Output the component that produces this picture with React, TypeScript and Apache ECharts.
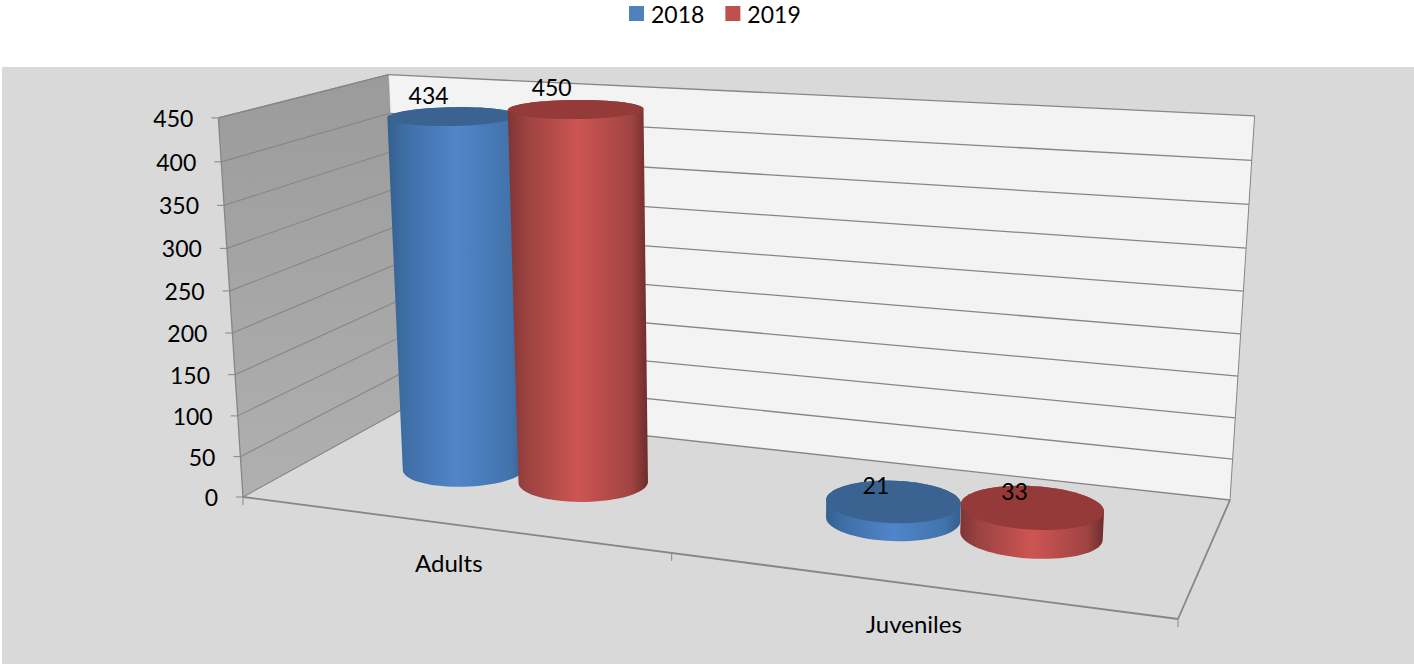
import React, { useEffect, useRef } from "react";
import * as echarts from "echarts";

const categories = ["Adults", "Juveniles"];
const years = ["2018", "2019"];
const values2018 = [434, 21];
const values2019 = [450, 33];
const yTicks = [0, 50, 100, 150, 200, 250, 300, 350, 400, 450];

const FAMILY = "Lato, 'Open Sans', sans-serif";
const FONT = "23px " + FAMILY;
const CAT_FONT = "24px " + FAMILY;
const GRID = { left: 243, top: 118, width: 935, height: 379 };

// Perspective box: floor corners and the vanishing point of the verticals.
const P00 = [243, 497];
const P10 = [1178, 619];
const P11 = [1230, 500];
const P01 = [403, 409];
const VP = [740, 8150];
const VS = -0.0472;

const dx1 = P10[0] - P11[0], dx2 = P01[0] - P11[0], sx = P00[0] - P10[0] + P11[0] - P01[0];
const dy1 = P10[1] - P11[1], dy2 = P01[1] - P11[1], sy = P00[1] - P10[1] + P11[1] - P01[1];
const det = dx1 * dy2 - dx2 * dy1;
const hg = (sx * dy2 - dx2 * sy) / det;
const hh = (dx1 * sy - sx * dy1) / det;
const ha = P10[0] - P00[0] + hg * P10[0], hb = P01[0] - P00[0] + hh * P01[0], hc = P00[0];
const hd = P10[1] - P00[1] + hg * P10[1], he = P01[1] - P00[1] + hh * P01[1], hf = P00[1];

function project(u: number, v: number, z: number): number[] {
  const w = hg * u + hh * v + 1 + z * VS;
  return [
    (ha * u + hb * v + hc + z * VS * VP[0]) / w,
    (hd * u + he * v + hf + z * VS * VP[1]) / w,
  ];
}

function hull(points: number[][]): number[][] {
  const p = points.slice().sort((a, b) => a[0] - b[0] || a[1] - b[1]);
  const cross = (o: number[], a: number[], b: number[]) =>
    (a[0] - o[0]) * (b[1] - o[1]) - (a[1] - o[1]) * (b[0] - o[0]);
  const lower: number[][] = [];
  for (const q of p) {
    while (lower.length > 1 && cross(lower[lower.length - 2], lower[lower.length - 1], q) <= 0) lower.pop();
    lower.push(q);
  }
  const upper: number[][] = [];
  for (const q of p.slice().reverse()) {
    while (upper.length > 1 && cross(upper[upper.length - 2], upper[upper.length - 1], q) <= 0) upper.pop();
    upper.push(q);
  }
  return lower.slice(0, -1).concat(upper.slice(0, -1));
}

const LINE = "#868686";
const line = (a: number[], b: number[], lineWidth = 1.3) => ({
  type: "line",
  shape: { x1: a[0], y1: a[1], x2: b[0], y2: b[1] },
  style: { stroke: LINE, lineWidth },
  silent: true,
});

const label = (text: string, x: number, y: number, align = "center", font = FONT) => ({
  type: "text",
  silent: true,
  style: { text, x, y, align, verticalAlign: "middle", font, fill: "#000" },
});

const toZ = (py: number, sys: any) => (sys.y + sys.height - py) / sys.height;
const toU = (px: number, sys: any) => (px - sys.x) / sys.width;

function renderWalls() {
  const c = (u: number, v: number, z: number) => project(u, v, z);
  const poly = (pts: number[][], fill: any) => ({
    type: "polygon",
    shape: { points: pts },
    style: { fill },
    silent: true,
  });
  return {
    type: "group",
    children: [
      poly([c(0, 0, 0), c(1, 0, 0), c(1, 1, 0), c(0, 1, 0)], "#d9d9d9"),
      poly(
        [c(0, 0, 0), c(0, 1, 0), c(0, 1, 1), c(0, 0, 1)],
        new echarts.graphic.LinearGradient(0, 0, 0, 1, [
          { offset: 0, color: "#9b9b9b" },
          { offset: 1, color: "#b0b0b0" },
        ])
      ),
      poly([c(0, 1, 0), c(1, 1, 0), c(1, 1, 1), c(0, 1, 1)], "#f3f3f3"),
      line(c(0, 0, 0), c(1, 0, 0), 1.8),
      line(c(1, 0, 0), c(1, 1, 0), 1.8),
      line(c(0, 0, 0), c(0, 0, 1)),
      line(c(0, 0, 1), c(0, 1, 1)),
      line(c(1, 1, 0), c(1, 1, 1), 1),
      line(c(0, 1, 1), c(0, 1, 0), 0.6),
      line([c(0, 0, 0)[0], c(0, 0, 0)[1]], [c(0, 0, 0)[0], c(0, 0, 0)[1] + 8], 1),
      line([c(0.5, 0, 0)[0], c(0.5, 0, 0)[1]], [c(0.5, 0, 0)[0], c(0.5, 0, 0)[1] + 8], 1),
      line([c(1, 0, 0)[0], c(1, 0, 0)[1]], [c(1, 0, 0)[0], c(1, 0, 0)[1] + 8], 1),
    ],
  };
}

function renderTick(params: any, api: any) {
  const sys = params.coordSys;
  const val = api.value(0);
  const z = toZ(api.coord([0, val])[1], sys);
  const a = project(0, 0, z);
  const b = project(0, 1, z);
  const d = project(1, 1, z);
  return {
    type: "group",
    children: [
      line(a, b, 1.1),
      line(b, d, 1.3),
      line([a[0] - 7, a[1]], a, 1),
      label(String(val), a[0] - 25, a[1], "right"),
    ],
  };
}

function renderCategory(params: any, api: any) {
  const sys = params.coordSys;
  const idx = api.value(0);
  const px = api.coord([idx, 0])[0];
  const p = project(toU(px, sys), 0, 0);
  return label(categories[idx], p[0], p[1] + 39, "center", CAT_FONT);
}

const CENTER_V = 0.49;
const OFFSET_BLUE = -0.071;
const OFFSET_RED = 0.075;
const R_BLUE = 0.07;
const R_RED = 0.072;
const R_V = 0.19;
const STEPS = 72;

function makeCylinder(offset: number, radius: number, stops: string[], topColor: string) {
  return function renderCyl(params: any, api: any) {
    const sys = params.coordSys;
    const pt = api.coord([api.value(0), api.value(1)]);
    const u = toU(pt[0], sys) + offset;
    const z = toZ(pt[1], sys);
    const ring = (h: number) => {
      const out: number[][] = [];
      for (let i = 0; i < STEPS; i++) {
        const t = (i / STEPS) * Math.PI * 2;
        out.push(project(u + radius * Math.cos(t), CENTER_V + R_V * Math.sin(t), h));
      }
      return out;
    };
    const base = ring(0);
    const top = ring(z);
    return {
      type: "group",
      children: [
        {
          type: "polygon",
          silent: true,
          shape: { points: hull(base.concat(top)) },
          style: {
            fill: new echarts.graphic.LinearGradient(0, 0, 1, 0, [
              { offset: 0, color: stops[0] },
              { offset: 0.12, color: stops[1] },
              { offset: 0.5, color: stops[2] },
              { offset: 0.88, color: stops[3] },
              { offset: 1, color: stops[4] },
            ]),
          },
        },
        { type: "polygon", silent: true, shape: { points: top }, style: { fill: topColor } },
      ],
    };
  };
}

function makeDataLabel(offset: number) {
  return function renderLabel(params: any, api: any) {
    const sys = params.coordSys;
    const val = api.value(1);
    const pt = api.coord([api.value(0), val]);
    const z = toZ(pt[1], sys);
    const c = project(toU(pt[0], sys) + offset, CENTER_V, z);
    return label(String(val), c[0] - 17 - 7 * z, c[1] - 16 - 6 * z);
  };
}

const pairs = (vals: number[]) => vals.map((v, i) => [i, v]);

export default function App() {
  const ref = useRef<HTMLDivElement>(null);
  useEffect(() => {
    const chart = echarts.init(ref.current!, undefined, { renderer: "svg" });
    const base = { type: "custom", coordinateSystem: "cartesian2d", silent: true, clip: false };
    chart.setOption({
      animation: false,
      backgroundColor: "#fff",
      graphic: [
        {
          type: "rect",
          z: -1,
          silent: true,
          shape: { x: 2, y: 67, width: 1412, height: 597 },
          style: { fill: "#d9d9d9" },
        },
      ],
      legend: {
        data: years,
        left: 624,
        top: -3,
        icon: "rect",
        itemWidth: 15,
        itemHeight: 15,
        itemGap: 21,
        selectedMode: false,
        textStyle: { fontFamily: FAMILY, fontSize: 23, color: "#000", padding: [0, 0, 0, 2] },
      },
      grid: { ...GRID, containLabel: false },
      xAxis: { type: "category", data: categories, show: false },
      yAxis: { type: "value", min: 0, max: 450, interval: 50, show: false },
      series: [
        { ...base, name: "walls", z: 1, data: [[0, 0]], renderItem: renderWalls },
        { ...base, name: "ticks", z: 2, data: yTicks.map((t) => [t]), encode: { y: 0 }, renderItem: renderTick },
        { ...base, name: "cats", z: 2, data: categories.map((_, i) => [i]), encode: { x: 0 }, renderItem: renderCategory },
        {
          ...base,
          name: years[0],
          z: 3,
          itemStyle: { color: "#4f81bd" },
          data: pairs(values2018),
          renderItem: makeCylinder(OFFSET_BLUE, R_BLUE, ["#33608f", "#3f6ea5", "#5085c9", "#4273ab", "#345f8e"], "#3a6391"),
        },
        {
          ...base,
          name: years[1],
          z: 4,
          itemStyle: { color: "#c0504d" },
          data: pairs(values2019),
          renderItem: makeCylinder(OFFSET_RED, R_RED, ["#7d3534", "#9a4240", "#cd5552", "#a04443", "#6e2c2b"], "#943a38"),
        },
        { ...base, name: "labels2018", z: 5, data: pairs(values2018), renderItem: makeDataLabel(OFFSET_BLUE) },
        { ...base, name: "labels2019", z: 5, data: pairs(values2019), renderItem: makeDataLabel(OFFSET_RED) },
      ],
    });
    return () => chart.dispose();
  }, []);
  return <div ref={ref} style={{ position: "fixed", left: 0, top: 0, width: 1414, height: 664 }} />;
}
